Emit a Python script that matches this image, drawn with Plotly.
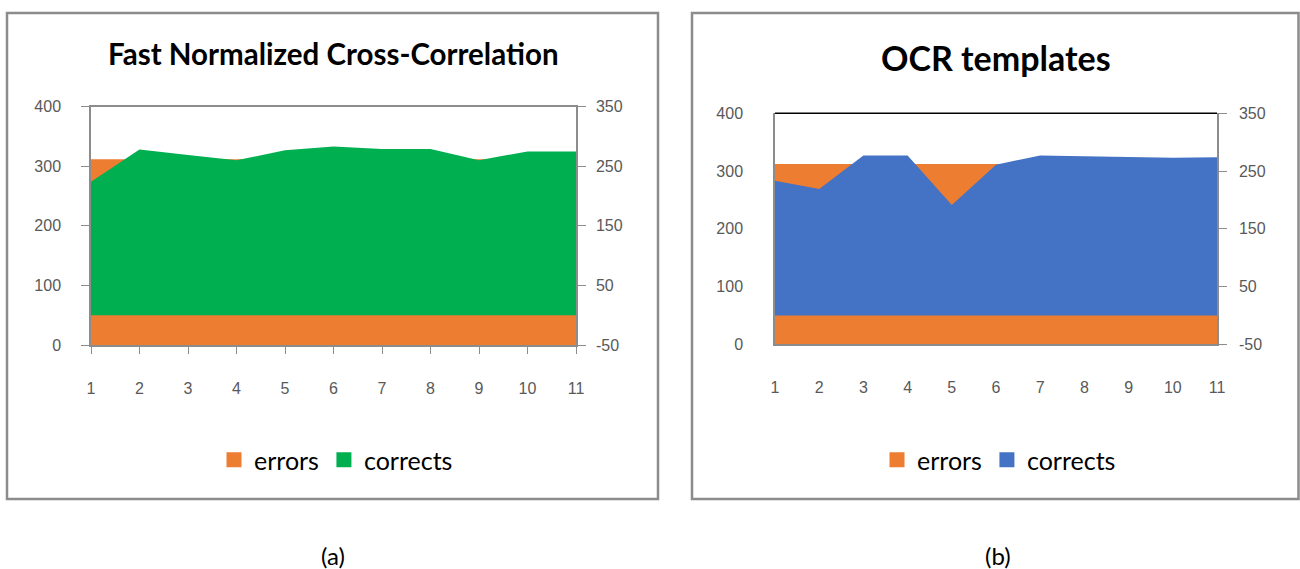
import plotly.graph_objects as go

# ---------------- data ----------------
categories = [1, 2, 3, 4, 5, 6, 7, 8, 9, 10, 11]
errors_a = [312, 312, 312, 312, 312, 312, 312, 312, 312, 312, 312]
corrects_a = [224, 278, 269, 260, 277, 283, 279, 279, 260, 275, 275]
errors_b = [312, 312, 312, 312, 312, 312, 312, 312, 312, 312, 312]
corrects_b = [233, 219, 277, 277, 191, 261, 277, 276, 274, 273, 274]
left_ticks = [0, 100, 200, 300, 400]
right_ticks = [-50, 50, 150, 250, 350]
title_a = "Fast Normalized Cross-Correlation"
title_b = "OCR templates"

ORANGE = "#ED7D31"
GREEN = "#00B050"
BLUE = "#4472C4"
TICKC = "#595959"
AXC = "#8C8C8C"
TICKFONT = dict(family="Liberation Sans, Arial, sans-serif", size=16, color=TICKC)
W, H = 1300, 569

def px_x(v):
    return v / W

def px_y(v):
    return 1 - v / H

fig = go.Figure()

# panel a
fig.add_trace(go.Scatter(x=categories, y=errors_a, mode="lines", fill="tozeroy",
                         fillcolor=ORANGE, line=dict(width=0, color=ORANGE),
                         xaxis="x", yaxis="y", showlegend=False, hoverinfo="skip"))
fig.add_trace(go.Scatter(x=categories, y=corrects_a, mode="lines", fill="tozeroy",
                         fillcolor=GREEN, line=dict(width=0, color=GREEN),
                         xaxis="x", yaxis="y2", showlegend=False, hoverinfo="skip"))
# panel b
fig.add_trace(go.Scatter(x=categories, y=errors_b, mode="lines", fill="tozeroy",
                         fillcolor=ORANGE, line=dict(width=0, color=ORANGE),
                         xaxis="x2", yaxis="y3", showlegend=False, hoverinfo="skip"))
fig.add_trace(go.Scatter(x=categories, y=corrects_b, mode="lines", fill="tozeroy",
                         fillcolor=BLUE, line=dict(width=0, color=BLUE),
                         xaxis="x2", yaxis="y4", showlegend=False, hoverinfo="skip"))

# legend entries (square markers)
for name, col, leg in [("errors", ORANGE, "legend"), ("corrects", GREEN, "legend"),
                       ("errors", ORANGE, "legend2"), ("corrects", BLUE, "legend2")]:
    fig.add_trace(go.Scatter(x=[None], y=[None], mode="markers", name=name,
                             marker=dict(symbol="square", size=15, color=col),
                             xaxis="x" if leg == "legend" else "x2",
                             yaxis="y" if leg == "legend" else "y3",
                             legend=leg, showlegend=True))

dom_ax = [px_x(91), px_x(576)]
dom_ay = [px_y(345), px_y(106.7)]
dom_bx = [px_x(775), px_x(1217)]
dom_by = [px_y(344.3), px_y(113.3)]

xcommon = dict(range=[1, 11], tickvals=categories, ticktext=[str(c) for c in categories],
               tickfont=TICKFONT, showgrid=False, zeroline=False, showline=True,
               linecolor=AXC, linewidth=1.5, automargin=False)
ycommon = dict(tickfont=TICKFONT, showgrid=False, zeroline=False, showline=True,
               linecolor=AXC, linewidth=1.5, automargin=False)
left_text = [str(v) for v in left_ticks]
right_text = [str(v) for v in right_ticks]

fig.update_layout(
    width=W, height=H, margin=dict(l=0, r=0, t=0, b=0, autoexpand=False),
    paper_bgcolor="white", plot_bgcolor="white",
    xaxis=dict(domain=dom_ax, anchor="y", ticks="outside", ticklen=7, tickcolor=AXC,
               mirror=True, ticklabelstandoff=21, **xcommon),
    yaxis=dict(domain=dom_ay, anchor="x", range=[0, 400], tickvals=left_ticks, ticktext=left_text,
               ticks="outside", ticklen=8, tickcolor=AXC, ticklabelstandoff=17, **ycommon),
    yaxis2=dict(overlaying="y", side="right", anchor="x", range=[-50, 350],
                tickvals=right_ticks, ticktext=right_text, ticks="outside", ticklen=8,
                tickcolor=AXC, ticklabelstandoff=7, **ycommon),
    xaxis2=dict(domain=dom_bx, anchor="y3", ticks="", ticklabelstandoff=28, **xcommon),
    yaxis3=dict(domain=dom_by, anchor="x2", range=[0, 400], tickvals=left_ticks, ticktext=left_text,
                ticks="", ticklabelstandoff=27, **ycommon),
    yaxis4=dict(overlaying="y3", side="right", anchor="x2", range=[-50, 350],
                tickvals=right_ticks, ticktext=right_text, ticks="outside", ticklen=8,
                tickcolor=AXC, ticklabelstandoff=9, **ycommon),
    legend=dict(orientation="h", x=px_x(336), y=px_y(460), xanchor="center", yanchor="middle",
                font=dict(family="Lato, sans-serif", size=25, color="#000"),
                bgcolor="rgba(0,0,0,0)", itemclick=False, itemdoubleclick=False),
    legend2=dict(orientation="h", x=px_x(999), y=px_y(460), xanchor="center", yanchor="middle",
                 font=dict(family="Lato, sans-serif", size=25, color="#000"),
                 bgcolor="rgba(0,0,0,0)", itemclick=False, itemdoubleclick=False),
    showlegend=True,
)

# top border line of panel b plot area (black)
fig.add_shape(type="line", xref="paper", yref="paper", x0=dom_bx[0], x1=dom_bx[1],
              y0=dom_by[1], y1=dom_by[1], line=dict(color="#000", width=1.5))

# outer panel borders
fig.add_shape(type="rect", xref="paper", yref="paper", x0=px_x(7), x1=px_x(658),
              y0=px_y(499), y1=px_y(13), line=dict(color="#8C8C8C", width=2.5), layer="below")
fig.add_shape(type="rect", xref="paper", yref="paper", x0=px_x(692), x1=px_x(1298.5),
              y0=px_y(499), y1=px_y(13), line=dict(color="#8C8C8C", width=2.5), layer="below")

# titles
fig.add_annotation(text="<b>" + title_a + "</b>", xref="paper", yref="paper",
                   x=px_x(333), y=px_y(53), showarrow=False, xanchor="center", yanchor="middle",
                   font=dict(family="Lato, sans-serif", size=29.5, color="#000"))
fig.add_annotation(text="<b>" + title_b + "</b>", xref="paper", yref="paper",
                   x=px_x(996), y=px_y(57), showarrow=False, xanchor="center", yanchor="middle",
                   font=dict(family="Lato, sans-serif", size=34, color="#000"))
# captions
fig.add_annotation(text="(a)", xref="paper", yref="paper", x=px_x(333), y=px_y(555),
                   showarrow=False, xanchor="center", yanchor="middle",
                   font=dict(family="Lato, sans-serif", size=24, color="#000"))
fig.add_annotation(text="(b)", xref="paper", yref="paper", x=px_x(998), y=px_y(555),
                   showarrow=False, xanchor="center", yanchor="middle",
                   font=dict(family="Lato, sans-serif", size=24, color="#000"))

fig.write_html("out.html", config={"displayModeBar": False},
               post_script="document.body.style.margin='0px';")
